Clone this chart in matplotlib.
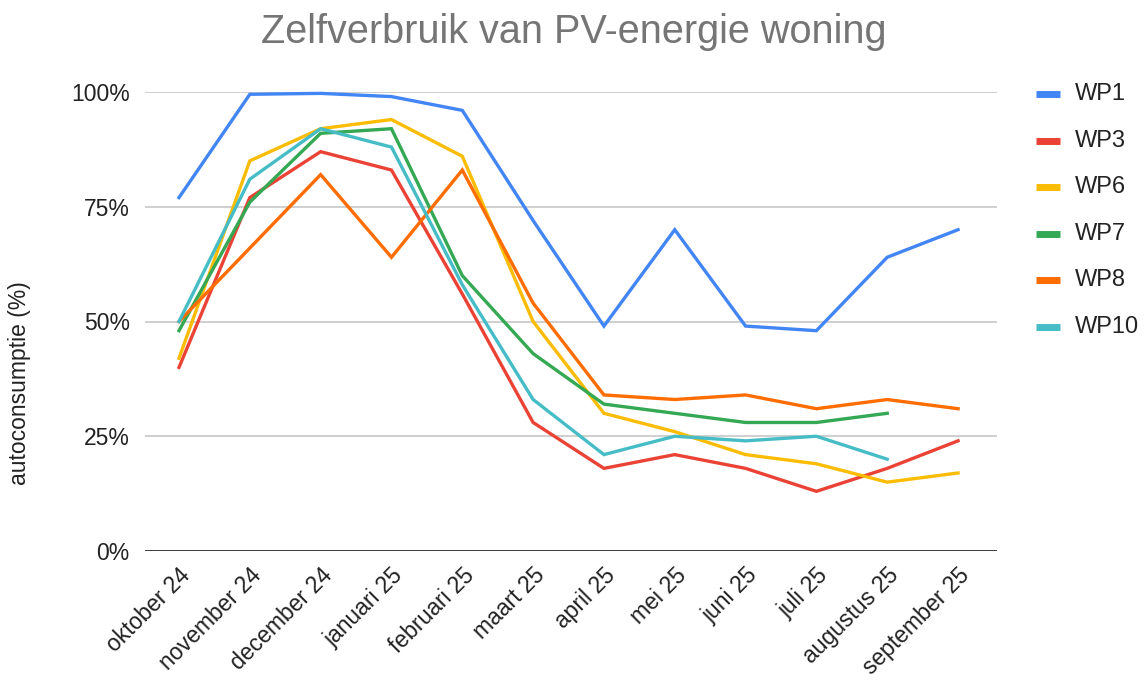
import matplotlib
matplotlib.use("Agg")
import matplotlib.pyplot as plt
from matplotlib.lines import Line2D

months = ["oktober 24", "november 24", "december 24", "januari 25", "februari 25",
          "maart 25", "april 25", "mei 25", "juni 25", "juli 25", "augustus 25", "september 25"]
wp1 = [77, 99.5, 99.7, 99, 96, 72, 49, 70, 49, 48, 64, 70]
wp3 = [40, 77, 87, 83, 56, 28, 18, 21, 18, 13, 18, 24]
wp6 = [42, 85, 92, 94, 86, 50, 30, 26, 21, 19, 15, 17]
wp7 = [48, 76, 91, 92, 60, 43, 32, 30, 28, 28, 30, None]
wp8 = [50, 66, 82, 64, 83, 54, 34, 33, 34, 31, 33, 31]
wp10 = [50, 81, 92, 88, 58, 33, 21, 25, 24, 25, 20, None]
y_ticks = [0, 25, 50, 75, 100]
y_tick_labels = ["0%", "25%", "50%", "75%", "100%"]

series = [("WP1", wp1, "#4285F4"), ("WP3", wp3, "#EA4335"), ("WP6", wp6, "#FBBC04"),
          ("WP7", wp7, "#34A853"), ("WP8", wp8, "#FF6D01"), ("WP10", wp10, "#46BDC6")]

plt.rcParams['font.family'] = ['Liberation Sans', 'DejaVu Sans']

fig = plt.figure(figsize=(11.44, 6.82), dpi=100)
ax = fig.add_axes([145/1144, 1-551/682, (997-145)/1144, (551-92)/682])

x = list(range(len(months)))
for name, vals, col in series:
    xs = [i for i, v in zip(x, vals) if v is not None]
    ys = [v for v in vals if v is not None]
    ax.plot(xs, ys, color=col, lw=2.4, label=name, clip_on=False, zorder=3,
            solid_joinstyle='miter')

ax.set_xlim(-0.48, 11.55)
ax.set_ylim(0, 100)
ax.set_yticks(y_ticks)
ax.set_yticklabels(y_tick_labels, fontsize=16.5, color="#222222")
ax.set_xticks(x)
ax.set_xticklabels(months, rotation=45, ha='right', va='top', rotation_mode='anchor',
                   fontsize=16.5, color="#222222")
ax.tick_params(axis='both', length=0)
ax.tick_params(axis='y', pad=11)
ax.tick_params(axis='x', pad=9)
for s in ax.spines.values():
    s.set_visible(False)
ax.grid(axis='y', color="#cccccc", lw=1.3, zorder=0)
ax.axhline(0, color="#333333", lw=1.3, zorder=2)
ax.set_axisbelow(True)

fig.text(20/1144, 1-383/682, "autoconsumptie (%)", rotation=90, ha='center', va='center',
         fontsize=16.5, color="#222222")

fig.text(574/1144, 1-32/682, "Zelfverbruik van PV-energie woning", ha='center', va='center',
         fontsize=28.5, color="#757575")

# legend
ys_leg = [94, 141, 187, 234, 280, 327]
for (name, vals, col), yp in zip(series, ys_leg):
    fy = 1 - yp/682
    fig.add_artist(Line2D([1036/1144, 1060/1144], [fy, fy], color=col, lw=5,
                          transform=fig.transFigure, solid_capstyle='butt'))
    fig.text(1075/1144, fy, name, ha='left', va='center', fontsize=17, color="#222222")

fig.savefig("out.png", dpi=100)
